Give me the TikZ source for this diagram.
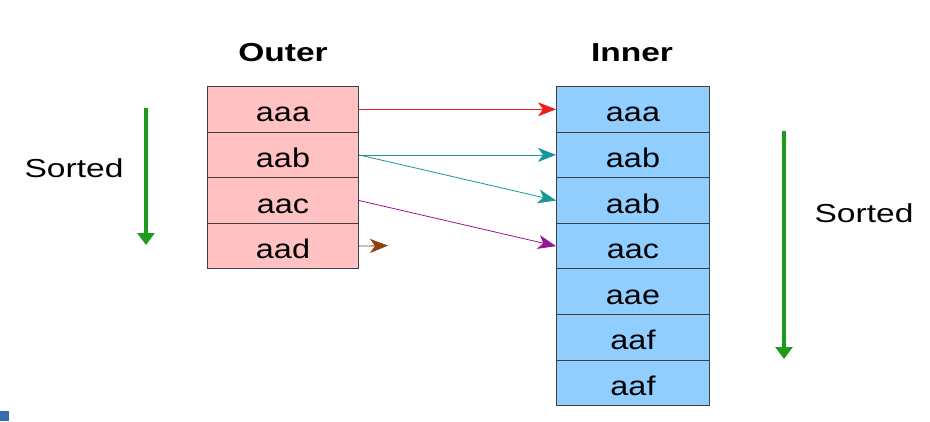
\documentclass[tikz,border=0pt]{standalone}
\usepackage{fontspec}
\setmainfont{Liberation Sans}
\usetikzlibrary{arrows.meta}
\definecolor{pinkfill}{RGB}{255,193,193}
\definecolor{bluefill}{RGB}{143,206,255}
\definecolor{arrred}{RGB}{238,30,30}
\definecolor{arrteal}{RGB}{25,150,150}
\definecolor{arrpurple}{RGB}{150,20,150}
\definecolor{arrbrown}{RGB}{140,65,15}
\definecolor{sortgreen}{RGB}{30,155,30}
\definecolor{markblue}{RGB}{50,110,170}
\newcommand{\celltxt}[1]{\scalebox{1.2}[1]{#1}}
\newcommand{\widetxt}[1]{\scalebox{1.29}[1]{#1}}
\begin{document}
\begin{tikzpicture}[x=1pt,y=-1pt,
  cellbox/.style={draw=black!75, line width=1pt, inner sep=0pt, anchor=north west,
    minimum height=45.6pt, text height=25pt, text depth=0pt, font=\fontsize{27}{27}\selectfont},
  outercell/.style={cellbox, fill=pinkfill, minimum width=151pt},
  innercell/.style={cellbox, fill=bluefill, minimum width=153pt},
  title/.style={font=\fontsize{26}{26}\selectfont\bfseries},
  sortlabel/.style={font=\fontsize{26}{26}\selectfont},
  link/.style={line width=0.8pt, -{Stealth[length=18pt,width=14pt,inset=5pt]}},
  sortarrow/.style={draw=sortgreen, line width=3.5pt, -{Triangle[length=12pt,width=17pt]}}
]
\useasboundingbox (0,0) rectangle (930,421);

\node[title] (outert) at (283,53) {\widetxt{Outer}};
\node[title] (innert) at (632,53) {\widetxt{Inner}};

\node[outercell] (o1) at (207,86) {\celltxt{aaa}};
\node[outercell] (o2) at (207,131.6) {\celltxt{aab}};
\node[outercell] (o3) at (207,177.2) {\celltxt{aac}};
\node[outercell] (o4) at (207,222.8) {\celltxt{aad}};

\node[innercell] (i1) at (556,86) {\celltxt{aaa}};
\node[innercell] (i2) at (556,131.6) {\celltxt{aab}};
\node[innercell] (i3) at (556,177.2) {\celltxt{aab}};
\node[innercell] (i4) at (556,222.8) {\celltxt{aac}};
\node[innercell] (i5) at (556,268.4) {\celltxt{aae}};
\node[innercell] (i6) at (556,314) {\celltxt{aaf}};
\node[innercell] (i7) at (556,359.6) {\celltxt{aaf}};

\draw[link, arrred] (o1.east) -- (i1.west);
\draw[link, arrteal] (o2.east) -- (i2.west);
\draw[link, arrteal] (o2.east) -- (i3.west);
\draw[link, arrpurple] (o3.east) -- (i4.west);
\coordinate (aadend) at (388,245.6);
\draw[link, arrbrown] (o4.east) -- (aadend);

\node[sortlabel] (sl) at (74,168) {\widetxt{Sorted}};
\node[sortlabel] (sr) at (864,213) {\widetxt{Sorted}};
\coordinate (gl1) at (146,108);
\coordinate (gl2) at (146,245);
\coordinate (gr1) at (784,131);
\coordinate (gr2) at (784,359);
\draw[sortarrow] (gl1) -- (gl2);
\draw[sortarrow] (gr1) -- (gr2);

\fill[markblue] (0,411) rectangle (9,421);
\end{tikzpicture}
\end{document}
